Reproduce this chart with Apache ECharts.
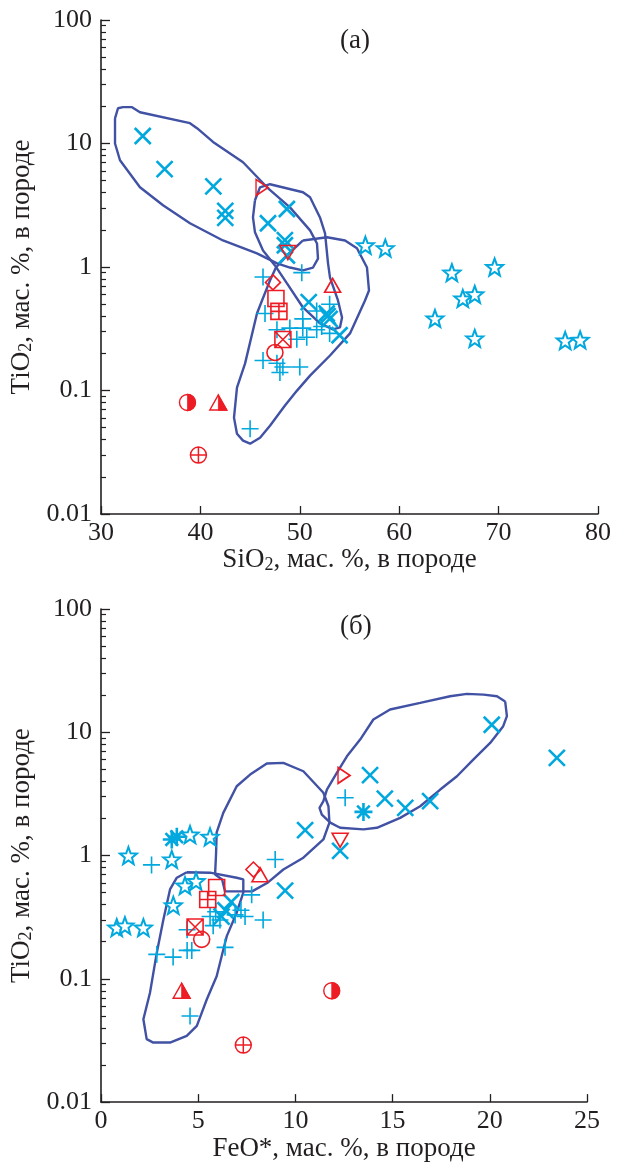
<!DOCTYPE html>
<html><head><meta charset="utf-8">
<script src="https://cdn.jsdelivr.net/npm/echarts@6/dist/echarts.min.js"></script>
<style>html,body{margin:0;padding:0;background:#fff}#c{width:625px;height:1163px}</style>
</head><body><div id="c"></div>
<script>
// ---------- data: panel (a) SiO2 vs TiO2 ----------
const crossA = [[34.2,11.5],[36.4,6.2],[41.3,4.5],[42.5,2.85],[42.5,2.5],[48.7,2.95],[46.8,2.26],[48.5,1.65],[48.5,1.5],[48.7,1.24],[50.9,0.52],[52.7,0.42],[53.0,0.38],[52.8,0.40],[54.0,0.28]];
const plusA = [[46.3,0.83],[50.2,0.9],[46.5,0.42],[47.7,0.31],[49.0,0.32],[50.3,0.32],[51.7,0.31],[53.0,0.29],[50.7,0.27],[49.7,0.26],[53.0,0.5],[51.7,0.44],[50.3,0.38],[52.2,0.33],[46.3,0.175],[47.7,0.166],[48.3,0.155],[50.0,0.155],[48.0,0.14],[45.0,0.049]];
const starA = [[56.6,1.5],[58.6,1.42],[65.3,0.9],[69.6,1.0],[66.4,0.556],[67.6,0.6],[63.6,0.383],[67.6,0.264],[76.7,0.254],[78.2,0.257]];
const astA = [];
const triRightA = [[46.2,4.4]];
const triDownA = [[48.8,1.31]];
const diamondA = [[47.3,0.75]];
const triUpA = [[53.3,0.71]];
const squareA = [[47.6,0.556]];
const squareGridA = [[47.9,0.437]];
const squareXA = [[48.3,0.259]];
const circleA = [[47.5,0.203]];
const halfCircleA = [[38.7,0.08]];
const halfTriA = [[41.8,0.08]];
const circlePlusA = [[39.8,0.030]];
const field1A = [[31.41,16.0],[31.71,19.3],[32.21,19.7],[33.12,19.7],[33.92,17.9],[38.95,14.6],[39.66,13.3],[41.27,10.3],[44.29,7.05],[46.70,4.42],[49.01,3.04],[51.03,1.98],[51.73,1.55],[51.83,1.17],[51.33,0.99],[50.32,0.94],[49.01,0.99],[47.71,1.07],[45.69,1.29],[42.27,1.64],[38.95,2.26],[36.24,3.16],[33.92,4.42],[31.91,7.32],[31.41,10.0]];
const field2A = [[45.49,3.47],[46.0,4.42],[47.0,4.68],[50.32,4.03],[51.03,3.67],[52.03,2.52],[52.54,1.87],[52.84,1.07],[53.04,0.82],[53.84,0.536],[54.25,0.39],[54.04,0.324],[53.34,0.312],[52.03,0.349],[50.32,0.47],[48.71,0.736],[47.5,1.03],[46.3,1.36],[45.49,1.91],[45.29,2.52]];
const field3A = [[50.32,1.64],[52.74,1.74],[54.55,1.64],[55.75,1.42],[56.76,0.99],[56.96,0.646],[56.56,0.536],[55.05,0.29],[53.04,0.192],[51.03,0.132],[49.72,0.0998],[48.51,0.0755],[47.0,0.0519],[46.0,0.0415],[45.0,0.0371],[44.29,0.0393],[43.68,0.0447],[43.38,0.0603],[43.68,0.1057],[44.49,0.165],[45.69,0.42],[46.2,0.536],[47.0,0.778],[47.6,0.99],[49.01,1.31]];

// ---------- data: panel (б) FeO* vs TiO2 ----------
const crossB = [[20.1,11.5],[23.45,6.2],[13.84,4.49],[14.6,2.9],[15.65,2.44],[16.93,2.76],[10.5,1.61],[12.3,1.09],[9.47,0.52],[6.7,0.42],[6.4,0.36],[6.2,0.32]];
const plusB = [[12.56,2.94],[8.96,0.93],[2.6,0.84],[7.75,0.48],[7.41,0.32],[8.34,0.30],[6.12,0.30],[5.61,0.32],[5.77,0.27],[4.43,0.25],[6.9,0.33],[7.2,0.36],[5.9,0.35],[2.87,0.158],[3.71,0.15],[4.43,0.17],[4.67,0.17],[6.38,0.18],[4.58,0.05]];
const starB = [[4.58,1.48],[5.61,1.42],[1.41,1.0],[3.64,0.93],[4.32,0.57],[4.89,0.62],[3.72,0.395],[0.81,0.26],[1.23,0.27],[2.18,0.26]];
const astB = [[13.5,2.26],[3.64,1.35],[3.9,1.42]];
const triRightB = [[12.5,4.47]];
const triDownB = [[12.3,1.33]];
const diamondB = [[7.84,0.77]];
const triUpB = [[8.18,0.70]];
const squareB = [[5.95,0.55]];
const squareGridB = [[5.49,0.44]];
const squareXB = [[4.84,0.263]];
const circleB = [[5.18,0.209]];
const halfCircleB = [[11.87,0.08]];
const halfTriB = [[4.15,0.08]];
const circlePlusB = [[7.32,0.029]];
const field1B = [[20.79,17.8],[20.88,13.5],[20.69,11.2],[20.02,8.2],[19.15,6.0],[18.31,4.40],[17.45,3.43],[16.42,2.51],[15.39,2.02],[14.19,1.68],[13.50,1.63],[12.30,1.68],[11.79,1.85],[11.36,2.15],[11.24,2.44],[11.44,2.76],[11.62,3.43],[12.13,4.69],[12.65,6.39],[13.33,8.73],[14.01,12.7],[14.87,15.3],[16.42,17.3],[17.96,19.6],[18.82,20.5],[19.68,20.2],[20.37,19.6]];
const field2B = [[5.92,1.05],[5.87,0.703],[6.23,0.64],[6.38,0.512],[7.77,0.512],[8.59,0.605],[9.38,0.77],[10.41,0.96],[11.44,1.35],[11.75,1.85],[11.70,2.51],[11.44,3.23],[10.41,4.83],[9.38,5.65],[8.53,5.58],[7.67,4.54],[6.98,3.65],[6.29,2.22],[5.95,1.54]];
const field3B = [[4.41,0.733],[5.61,0.726],[6.98,0.661],[7.32,0.64],[7.32,0.50],[6.98,0.344],[6.47,0.222],[6.21,0.153],[5.95,0.105],[5.44,0.068],[4.93,0.0415],[4.41,0.0344],[3.55,0.0304],[2.69,0.0304],[2.35,0.0324],[2.18,0.047],[2.52,0.077],[2.87,0.163],[3.21,0.303],[3.55,0.531],[3.90,0.661]];

// ---------- axes / text ----------
const xTicksA = {min:30, max:80, interval:10};
const xTicksB = {min:0, max:25, interval:5};
const yRange = {min:0.01, max:100};
const yMinor = [0.02,0.03,0.04,0.05,0.06,0.07,0.08,0.09,0.2,0.3,0.4,0.5,0.6,0.7,0.8,0.9,2,3,4,5,6,7,8,9,20,30,40,50,60,70,80,90];
const titleA = '(a)', titleB = '(б)';
const xNameA = '{a|SiO}{s|2}{a|, мас. %, в породе}';
const xNameB = '{a|FeO*, мас. %, в породе}';
const yName = '{a|TiO}{s|2}{a|, мас. %, в породе}';

const FONT = 'Liberation Serif';
const CYAN = '#00a8de', RED = '#ed1c24', BLUE = '#4151a4', INK = '#231f20';

const SYM = {
  cross: 'path://M0,0L10,10M10,0L0,10',
  plus: 'path://M5,0L5,10M0,5L10,5',
  ast: 'path://M5,0L5,10M0,5L10,5M1.5,1.5L8.5,8.5M8.5,1.5L1.5,8.5',
  star: 'path://M10,0L12.47,6.6L19.51,6.91L13.99,11.3L15.88,18.09L10,14.2L4.12,18.09L6.01,11.3L0.49,6.91L7.53,6.6Z',
  triRight: 'path://M0,0L10,5L0,10Z',
  triDown: 'path://M0,0L10,0L5,9Z',
  triUp: 'path://M5,0L10,9L0,9Z',
  diamond: 'path://M5,0L10,5L5,10L0,5Z',
  square: 'path://M0,0L10,0L10,10L0,10Z',
  squareGrid: 'path://M0,0L10,0L10,10L0,10ZM5,0L5,10M0,5L10,5',
  squareX: 'path://M0,0L10,0L10,10L0,10ZM0,0L10,10M10,0L0,10',
  circle: 'path://M5,0A5,5 0 1 1 5,10A5,5 0 1 1 5,0Z',
  circlePlus: 'path://M5,0A5,5 0 1 1 5,10A5,5 0 1 1 5,0ZM5,0L5,10M0,5L10,5',
  halfDisk: 'path://M0,0A5,5 0 0 1 0,10Z',
  halfTri: 'path://M0,0L5,9L0,9Z'
};

function sc(data, i, sym, size, color, fill, bw, extra) {
  return Object.assign({
    type:'scatter', xAxisIndex:i, yAxisIndex:i*2, data:data, symbol:SYM[sym], symbolSize:size,
    itemStyle:{color:fill, borderColor:color, borderWidth:bw, opacity:1}, z:3, silent:true
  }, extra||{});
}
function field(data, i) {
  return {type:'line', xAxisIndex:i, yAxisIndex:i*2, data:data.concat([data[0]]), showSymbol:false,
    lineStyle:{color:BLUE, width:2.4}, z:2, silent:true};
}
function panelSeries(i, d) {
  return [
    field(d.f1,i), field(d.f2,i), field(d.f3,i),
    sc(d.plus,i,'plus',17,CYAN,'none',1.6),
    sc(d.cross,i,'cross',16,CYAN,'none',2.6),
    sc(d.ast,i,'ast',18,CYAN,'none',2.6),
    sc(d.star,i,'star',17,CYAN,'#fff',2),
    sc(d.triRight,i,'triRight',[12,16],RED,'none',1.6),
    sc(d.triDown,i,'triDown',[16,14],RED,'none',1.6),
    sc(d.diamond,i,'diamond',15,RED,'none',1.6),
    sc(d.triUp,i,'triUp',[16,14],RED,'none',1.6),
    sc(d.square,i,'square',16,RED,'none',1.6),
    sc(d.squareGrid,i,'squareGrid',16,RED,'none',1.6),
    sc(d.squareX,i,'squareX',16,RED,'none',1.6),
    sc(d.circle,i,'circle',16,RED,'none',1.6),
    sc(d.halfCircle,i,'circle',16,RED,'none',1.4),
    sc(d.halfCircle,i,'halfDisk',[8,16],RED,RED,1,{symbolOffset:[4,0]}),
    sc(d.halfTri,i,'triUp',[17,15],RED,'none',1.4),
    sc(d.halfTri,i,'halfTri',[8.5,15],RED,RED,1,{symbolOffset:[4.25,0]}),
    sc(d.circlePlus,i,'circlePlus',16,RED,'none',1.5)
  ];
}

const rich = {
  a:{fontFamily:FONT, fontSize:27, color:INK, lineHeight:30, verticalAlign:'bottom'},
  s:{fontFamily:FONT, fontSize:18, color:INK, lineHeight:12, verticalAlign:'bottom'}
};
function xAxis(i, t, name) {
  return {gridIndex:i, type:'value', min:t.min, max:t.max, interval:t.interval,
    axisLine:{onZero:false, lineStyle:{color:INK, width:1.6}},
    axisTick:{inside:true, length:8, lineStyle:{color:INK, width:1.3}},
    axisLabel:{fontFamily:FONT, fontSize:26, color:INK, margin:6},
    splitLine:{show:false},
    name:name, nameLocation:'middle', nameGap:28, nameTextStyle:{rich:rich}};
}
function yAxes(i) {
  return [
    {gridIndex:i, type:'log', logBase:10, min:yRange.min, max:yRange.max,
     axisLine:{onZero:false, lineStyle:{color:INK, width:1.6}},
     axisTick:{inside:true, length:9, lineStyle:{color:INK, width:1.3}},
     axisLabel:{fontFamily:FONT, fontSize:26, color:INK, margin:9},
     splitLine:{show:false},
     name:yName, nameLocation:'middle', nameGap:60, nameRotate:90, nameTextStyle:{rich:rich}},
    {gridIndex:i, type:'log', logBase:10, min:yRange.min, max:yRange.max, position:'left', offset:0,
     axisLine:{show:false}, axisLabel:{show:false}, splitLine:{show:false},
     axisTick:{inside:true, length:5, customValues:yMinor, lineStyle:{color:INK, width:1.2}}}
  ];
}

const A = {cross:crossA, plus:plusA, star:starA, ast:astA, triRight:triRightA, triDown:triDownA, diamond:diamondA,
  triUp:triUpA, square:squareA, squareGrid:squareGridA, squareX:squareXA, circle:circleA, halfCircle:halfCircleA,
  halfTri:halfTriA, circlePlus:circlePlusA, f1:field1A, f2:field2A, f3:field3A};
const B = {cross:crossB, plus:plusB, star:starB, ast:astB, triRight:triRightB, triDown:triDownB, diamond:diamondB,
  triUp:triUpB, square:squareB, squareGrid:squareGridB, squareX:squareXB, circle:circleB, halfCircle:halfCircleB,
  halfTri:halfTriB, circlePlus:circlePlusB, f1:field1B, f2:field2B, f3:field3B};

const chart = echarts.init(document.getElementById('c'), null, {renderer:'canvas'});
chart.setOption({
  animation:false,
  backgroundColor:'#fff',
  title:[
    {text:titleA, left:335, top:22, textStyle:{fontFamily:FONT, fontSize:27, fontWeight:'normal', color:INK}},
    {text:titleB, left:335, top:608, textStyle:{fontFamily:FONT, fontSize:27, fontWeight:'normal', color:INK}}
  ],
  grid:[
    {left:101, top:20, width:497, height:494},
    {left:101, top:609, width:486, height:494}
  ],
  xAxis:[xAxis(0,xTicksA,xNameA), xAxis(1,xTicksB,xNameB)],
  yAxis:yAxes(0).concat(yAxes(1)),
  series:panelSeries(0,A).concat(panelSeries(1,B))
});
</script></body></html>
